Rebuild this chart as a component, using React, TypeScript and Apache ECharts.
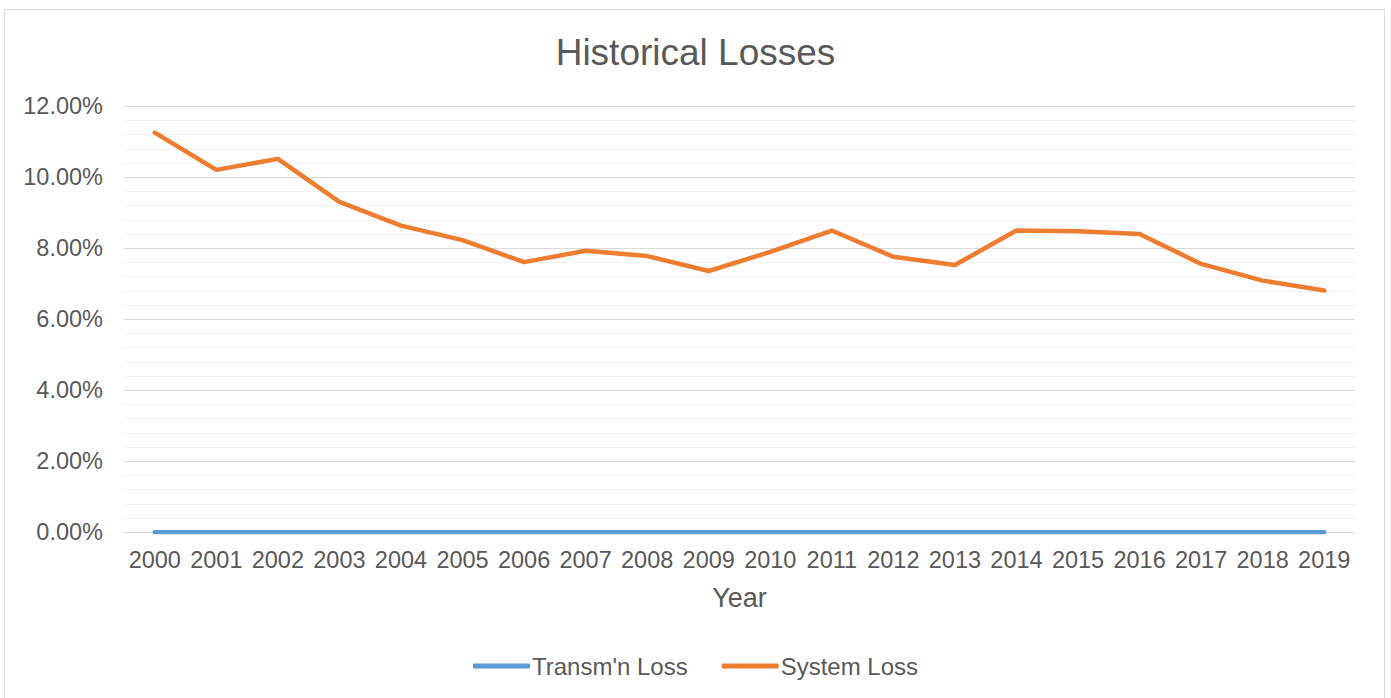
import React, { useEffect, useRef } from "react";
import * as echarts from "echarts";

const years = ["2000","2001","2002","2003","2004","2005","2006","2007","2008","2009","2010","2011","2012","2013","2014","2015","2016","2017","2018","2019"];
const transmLoss = [0,0,0,0,0,0,0,0,0,0,0,0,0,0,0,0,0,0,0,0];
const systemLoss = [0.1126,0.1021,0.1052,0.0931,0.0864,0.0823,0.0761,0.0793,0.0778,0.0736,0.0790,0.0850,0.0776,0.0753,0.0850,0.0848,0.0840,0.0756,0.0709,0.0681];

const FONT = "'Liberation Sans', Arial, sans-serif";
const TXT = "#595959";

export default function App() {
  const ref = useRef<HTMLDivElement>(null);
  useEffect(() => {
    if (!ref.current) return;
    const chart = echarts.init(ref.current, null, { renderer: "svg" });
    chart.setOption({
      animation: false,
      backgroundColor: "#ffffff",
      textStyle: { fontFamily: FONT, color: TXT },
      graphic: [
        {
          type: "rect",
          shape: { x: 4.5, y: 9.5, width: 1380, height: 700 },
          style: { fill: "none", stroke: "#D9D9D9", lineWidth: 1 },
          silent: true,
        },
      ],
      title: {
        text: "Historical Losses",
        left: "center",
        top: 28.5,
        textStyle: { fontFamily: FONT, fontSize: 37, fontWeight: "normal", color: TXT },
      },
      legend: {
        bottom: 15,
        left: "center",
        itemWidth: 57,
        itemHeight: 5,
        itemGap: 34,
        icon: "roundRect",
        textStyle: { fontFamily: FONT, fontSize: 24, color: TXT, padding: [0, 0, 0, -3] },
        data: ["Transm'n Loss", "System Loss"],
      },
      grid: { left: 124, right: 36, top: 106.3, bottom: 165.7, containLabel: false },
      xAxis: {
        type: "category",
        data: years,
        boundaryGap: true,
        name: "Year",
        nameLocation: "middle",
        nameGap: 52,
        nameTextStyle: { fontFamily: FONT, fontSize: 27, color: TXT },
        axisLine: { lineStyle: { color: "#D9D9D9", width: 1 } },
        axisTick: { show: false },
        axisLabel: { fontFamily: FONT, fontSize: 23.5, color: TXT, margin: 16, interval: 0, hideOverlap: false },
      },
      yAxis: {
        type: "value",
        min: 0,
        max: 0.12,
        interval: 0.02,
        axisLine: { show: false },
        axisTick: { show: false },
        axisLabel: {
          fontFamily: FONT,
          fontSize: 23.5,
          color: TXT,
          margin: 21,
          formatter: (v: number) => (v * 100).toFixed(2) + "%",
        },
        splitLine: { lineStyle: { color: "#D9D9D9", width: 1 } },
        minorTick: { show: false, splitNumber: 5 },
        minorSplitLine: { show: true, lineStyle: { color: "#F2F2F2", width: 1 } },
      },
      series: [
        {
          name: "Transm'n Loss",
          type: "line",
          data: transmLoss,
          showSymbol: false,
          symbol: "none",
          lineStyle: { color: "#5B9BD5", width: 4.5, cap: "round" },
          itemStyle: { color: "#5B9BD5" },
        },
        {
          name: "System Loss",
          type: "line",
          data: systemLoss,
          showSymbol: false,
          symbol: "none",
          lineStyle: { color: "#ED7D31", width: 4.5, cap: "round", join: "round" },
          itemStyle: { color: "#ED7D31" },
        },
      ],
    });
    return () => chart.dispose();
  }, []);
  return (
    <div
      ref={ref}
      style={{ position: "fixed", left: 0, top: 0, width: 1391, height: 698 }}
    />
  );
}
